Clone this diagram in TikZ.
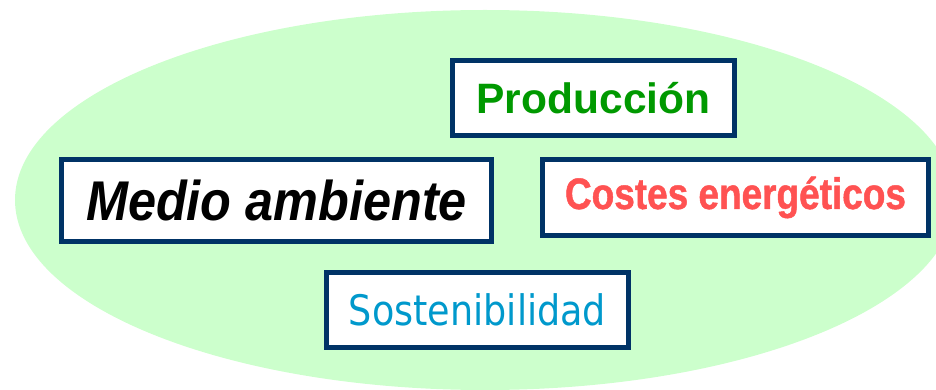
\documentclass[tikz,border=0pt]{standalone}
\usepackage{fontspec}
\setmainfont{Liberation Sans}
\newfontfamily\medfont[FakeStretch=0.9]{Liberation Sans}
\newfontfamily\costfont[FakeStretch=0.84,FakeBold=1]{Liberation Sans}
\newfontfamily\sostfont[FakeStretch=0.87]{DejaVu Sans}
\usetikzlibrary{positioning}
\definecolor{fieldgreen}{HTML}{CCFFCC}
\definecolor{boxblue}{HTML}{003366}
\definecolor{prodgreen}{HTML}{009900}
\definecolor{costred}{HTML}{FF5252}
\definecolor{sostblue}{HTML}{0099CC}

\begin{document}
\begin{tikzpicture} [x=1pt,
    y=-1pt,
    main node/.style={rectangle, fill = white, draw = boxblue,
        line width = 5pt, align=center, inner sep = 0pt}
  ]

  \useasboundingbox (0, 0) rectangle (936, 390);
  \clip (0, 0) rectangle (936, 390);

  % background field
  \fill [fieldgreen] (485, 200) ellipse (470 and 190);

  \node [main node,
    minimum width = 282pt,
    minimum height = 75pt,
    text = prodgreen,
    font = \fontsize{42.5}{48}\selectfont\bfseries
  ] (prod) at (593.5, 98) {Producción};

  \node [main node,
    minimum width = 430pt,
    minimum height = 82pt,
    text = black,
    font = \fontsize{56}{64}\selectfont\medfont\bfseries\itshape
  ] (medio) at (276.5, 200.5) {Medio ambiente};

  \node [main node,
    minimum width = 386pt,
    minimum height = 76pt,
    text = costred,
    font = \fontsize{44}{50}\selectfont\costfont\bfseries
  ] (costes) at (735.5, 197.5) {Costes energéticos};

  \node [main node,
    minimum width = 302pt,
    minimum height = 75pt,
    text = sostblue,
    font = \fontsize{42}{48}\selectfont\sostfont
  ] (sost) at (477.5, 310) {Sostenibilidad};

\end{tikzpicture}
\end{document}
